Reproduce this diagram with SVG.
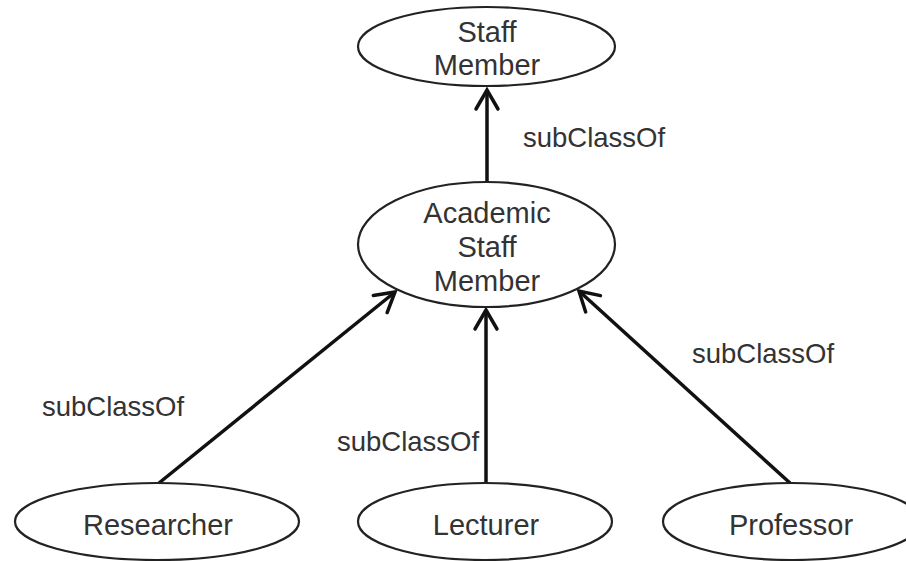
<svg xmlns="http://www.w3.org/2000/svg" width="906" height="561" viewBox="0 0 906 561">
<style>
.node ellipse{fill:#fff;stroke:#222;stroke-width:2.2}
.node text{font-family:"Liberation Sans",Arial,sans-serif;font-size:29px;fill:#333;text-anchor:middle}
.edge line{stroke:#111;stroke-width:3.5;marker-end:url(#arr)}
.lbl{font-family:"Liberation Sans",Arial,sans-serif;font-size:27.5px;fill:#333}
</style>
<defs>
<marker id="arr" markerUnits="userSpaceOnUse" viewBox="-24 -14 28 28" markerWidth="28" markerHeight="28" refX="0" refY="0" orient="auto">
<path d="M -19 -11 L 0 0 L -19 11" fill="none" stroke="#111" stroke-width="3.5" stroke-linecap="round" stroke-linejoin="miter"/>
</marker>
</defs>
<rect width="906" height="561" fill="#fff"/>
<g id="connectors" class="edge">
<line x1="487" y1="182" x2="487" y2="90"/>
<line x1="159" y1="483" x2="395" y2="292"/>
<line x1="486" y1="483" x2="486" y2="310"/>
<line x1="790" y1="483" x2="579" y2="291"/>
</g>
<g id="labels">
<text class="lbl" x="523" y="147">subClassOf</text>
<text class="lbl" x="42" y="416">subClassOf</text>
<text class="lbl" x="337" y="451">subClassOf</text>
<text class="lbl" x="692" y="363">subClassOf</text>
</g>
<g id="staff-member" class="node">
<ellipse cx="486.5" cy="46.5" rx="128.5" ry="39.5"/>
<text x="487" y="42">Staff</text>
<text x="487" y="75">Member</text>
</g>
<g id="academic-staff-member" class="node">
<ellipse cx="486.5" cy="244.5" rx="128.5" ry="62.5"/>
<text x="487" y="223">Academic</text>
<text x="487" y="257">Staff</text>
<text x="487" y="291">Member</text>
</g>
<g id="researcher" class="node">
<ellipse cx="157" cy="521.5" rx="142" ry="38.5"/>
<text x="158" y="535">Researcher</text>
</g>
<g id="lecturer" class="node">
<ellipse cx="485" cy="521.5" rx="127" ry="38.5"/>
<text x="486" y="535">Lecturer</text>
</g>
<g id="professor" class="node">
<ellipse cx="792" cy="521.5" rx="129" ry="38.5"/>
<text x="791" y="535">Professor</text>
</g>
</svg>
